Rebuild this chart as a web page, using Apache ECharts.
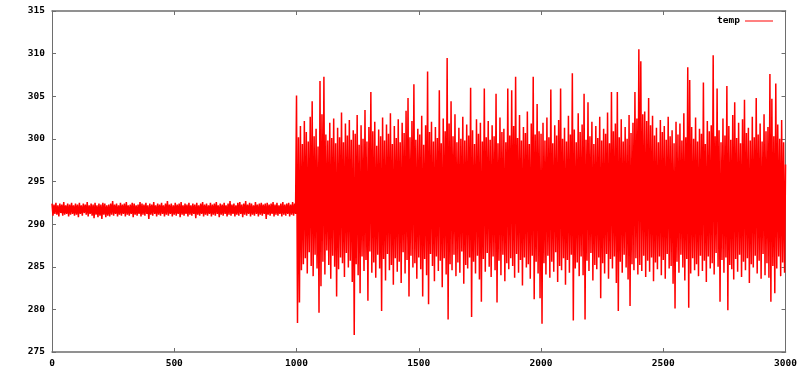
<!DOCTYPE html>
<html>
<head>
<meta charset="utf-8">
<script src="https://cdn.jsdelivr.net/npm/echarts@6/dist/echarts.min.js"></script>
<style>html,body{margin:0;padding:0;background:#fff;}#c{width:800px;height:375px;}</style>
</head>
<body>
<div id="c"></div>
<script>
// Sample index step (one value read per pixel column of the reference)
const sampleStep = 4;

// x ticks / y ticks
const xTicks = [0, 500, 1000, 1500, 2000, 2500, 3000];
const yTicks = [275, 280, 285, 290, 295, 300, 305, 310, 315];

// temp, samples 0..996
const tempA = [
292.4,291.0,292.3,291.2,292.5,291.1,292.2,290.9,292.4,291.3,292.3,291.0,292.6,291.1,292.2,291.2,292.4,290.9,292.3,291.1,
292.5,291.2,292.2,291.0,292.4,291.1,292.3,290.8,292.5,291.2,292.2,291.0,292.4,291.3,292.3,291.1,292.6,290.9,292.2,291.2,
292.4,291.0,292.3,290.7,292.5,291.1,292.2,290.8,292.4,291.0,292.3,290.6,292.5,291.1,292.4,290.8,292.2,291.0,292.3,290.9,
292.4,291.1,292.7,291.0,292.3,291.2,292.4,290.9,292.2,291.1,292.5,291.0,292.3,291.2,292.4,290.9,292.6,291.1,292.2,291.0,
292.3,291.2,292.5,290.8,292.4,291.1,292.2,291.0,292.3,291.2,292.6,290.9,292.4,291.1,292.3,291.0,292.5,291.2,292.2,290.6,
292.4,291.1,292.3,291.0,292.6,291.2,292.2,290.9,292.4,291.1,292.3,291.0,292.5,291.2,292.2,290.9,292.4,291.1,292.7,291.0,
292.3,291.2,292.4,290.9,292.2,291.1,292.5,291.0,292.3,291.2,292.4,290.8,292.6,291.1,292.2,291.0,292.4,291.2,292.3,290.9,
292.5,291.1,292.2,291.0,292.4,291.2,292.3,290.7,292.5,291.1,292.2,291.0,292.4,291.2,292.6,290.9,292.3,291.1,292.4,291.0,
292.2,291.2,292.5,290.9,292.3,291.1,292.4,291.0,292.6,291.2,292.2,290.8,292.4,291.1,292.3,291.0,292.5,291.2,292.2,290.9,
292.4,291.1,292.7,291.0,292.3,291.2,292.4,290.9,292.2,291.1,292.5,291.0,292.6,291.2,292.3,290.8,292.4,291.1,292.7,291.0,
292.3,291.2,292.5,290.9,292.4,291.1,292.2,291.0,292.6,291.2,292.3,290.9,292.4,291.1,292.5,291.0,292.3,291.2,292.4,290.6,
292.5,291.1,292.3,291.0,292.4,291.2,292.6,290.9,292.3,291.1,292.5,291.0,292.2,291.2,292.4,290.9,292.6,291.1,292.3,291.0,
292.4,291.2,292.5,290.9,292.3,291.1,292.6,291.0,292.4,291.2
];

// temp, samples 1000..1996
const tempB = [
305.1,278.4,300.2,280.8,301.5,284.6,299.4,285.3,302.1,286.0,300.8,284.2,299.7,286.7,302.6,285.1,304.4,283.9,300.3,286.4,
301.2,284.8,299.1,279.6,306.8,282.7,302.9,285.6,307.3,284.1,300.5,286.9,299.8,285.2,301.9,283.6,300.1,286.3,302.4,285.0,
299.5,281.5,301.3,284.7,300.2,286.1,303.1,285.4,299.6,283.8,301.8,286.6,300.4,284.9,302.2,285.7,299.9,283.2,301.0,277.0,
300.6,285.3,302.8,284.0,299.3,281.9,301.6,286.2,300.0,284.5,303.4,285.8,299.7,281.0,301.4,286.8,305.5,284.3,300.9,285.5,
302.0,283.7,299.2,286.4,301.1,284.8,300.3,279.8,302.5,285.9,299.8,283.4,301.7,286.5,300.6,284.6,303.0,285.2,299.4,282.9,
301.5,286.0,300.1,284.4,302.3,285.6,299.6,283.1,301.9,286.7,300.7,284.2,303.3,285.8,304.8,281.5,300.2,286.3,302.1,284.9,
306.4,285.4,299.9,283.6,301.2,286.1,300.5,284.7,302.7,281.5,299.3,285.9,301.6,284.0,307.9,280.6,300.8,286.5,302.0,285.1,
299.7,283.3,301.4,286.2,300.1,284.5,305.7,285.7,299.5,282.6,302.4,286.0,300.9,284.1,309.5,278.8,301.8,285.3,304.4,284.6,
300.3,286.4,302.9,283.9,299.6,285.5,301.3,284.3,300.0,286.8,302.6,283.0,299.8,285.2,301.7,284.8,300.4,286.1,306.0,279.1,
301.0,285.6,299.4,284.2,302.3,286.3,300.6,283.5,301.9,280.9,299.7,285.9,305.9,284.4,300.2,286.6,302.1,285.0,299.9,283.8,
301.6,286.2,300.3,284.6,305.3,280.8,299.5,285.7,302.5,284.0,300.8,286.4,301.2,283.3,299.6,285.4,305.9,284.7,300.4,286.0,
305.7,285.1,301.5,283.7,307.3,286.5,300.1,284.3,302.8,285.8,299.8,282.8,301.4,286.1,300.7,284.9,303.2,285.3,299.4,283.6,
301.8,286.3,307.3,281.2,300.5,285.6,304.1,284.2,300.9,281.3
];

// temp, samples 2000..3000
const tempC = [
300.6,278.3,301.9,285.4,299.8,284.1,302.5,286.3,300.2,283.7,305.8,285.6,299.5,284.4,301.6,286.7,300.4,283.2,302.2,285.1,
305.9,284.6,300.0,286.0,301.3,282.9,299.7,285.8,302.7,284.3,300.5,286.4,307.7,278.7,301.1,284.8,299.6,285.5,303.0,283.9,
300.8,286.2,301.7,284.0,305.3,278.8,299.9,285.7,304.3,284.5,300.3,286.6,302.0,283.4,299.4,285.2,301.5,284.7,300.1,286.1,
302.6,281.3,299.8,285.4,301.2,284.2,300.6,286.5,303.1,283.6,299.5,285.9,305.5,284.8,300.9,286.2,301.8,283.1,305.5,279.8,
300.2,285.6,302.3,284.3,299.7,286.4,301.4,284.9,300.0,283.5,302.8,280.4,300.7,285.3,301.9,284.6,305.5,286.0,302.4,284.1,
310.5,285.2,309.1,284.5,302.9,286.3,303.2,283.8,302.1,285.7,304.8,284.4,301.6,286.1,302.7,283.3,300.4,285.5,301.3,284.7,
299.6,286.2,302.2,284.0,300.8,285.8,301.5,283.6,299.9,286.5,302.6,284.8,300.3,285.1,301.0,283.0,299.5,280.1,302.0,285.6,
300.5,284.3,301.8,286.4,299.8,284.9,303.0,283.4,300.2,285.9,308.4,280.2,306.9,284.2,301.4,286.0,300.0,284.6,302.5,285.3,
299.7,283.9,301.2,286.3,300.6,284.5,306.6,285.7,299.4,283.2,302.1,286.2,300.9,284.8,301.6,285.4,309.8,284.1,300.3,286.6,
305.9,285.0,301.0,280.9,299.6,285.8,302.4,284.3,300.4,286.1,306.2,279.9,301.5,285.2,299.9,284.7,302.8,283.5,304.3,285.9,
300.1,284.4,301.9,286.4,299.5,283.8,302.3,285.6,304.6,284.6,300.7,286.0,301.3,283.1,299.8,285.3,302.6,284.9,300.2,286.3,
304.8,284.2,300.5,285.7,301.8,283.6,299.7,286.5,302.9,284.0,300.9,285.4,301.4,283.7,307.6,280.9,304.7,285.1,300.3,281.9,
306.5,284.8,301.7,286.2,300.0,283.9,302.2,285.5,299.6,284.3,297.0
];

const tempValues = tempA.concat(tempB, tempC);
const seriesData = tempValues.map((v, i) => [i * sampleStep, v]);

const fontFam = '"DejaVu Sans Mono", "Liberation Mono", monospace';
const axisCol = '#6e6e6e';
const labelStyle = { color: '#000', fontFamily: fontFam, fontWeight: 'bold', fontSize: 9.5 };
const plainNum = v => String(v);

const chart = echarts.init(document.getElementById('c'), null, { renderer: 'canvas' });
chart.setOption({
  animation: false,
  backgroundColor: '#fff',
  grid: { left: 52, right: 12, top: 11, bottom: 23, containLabel: false },
  legend: {
    data: [{ name: 'temp', icon: 'rect' }],
    right: 22, top: 11,
    align: 'right',
    itemWidth: 28, itemHeight: 1,
    textStyle: { color: '#000', fontFamily: fontFam, fontWeight: 'bold', fontSize: 9.5 },
    selectedMode: false
  },
  xAxis: [
    {
      type: 'value', min: xTicks[0], max: xTicks[xTicks.length - 1], interval: xTicks[1] - xTicks[0],
      position: 'bottom',
      axisLine: { show: true, onZero: false, lineStyle: { color: axisCol, width: 1.5 } },
      axisTick: { show: true, inside: true, length: 4, lineStyle: { color: axisCol } },
      axisLabel: Object.assign({ margin: 7, showMaxLabel: true, showMinLabel: true, formatter: plainNum }, labelStyle),
      splitLine: { show: false }
    },
    {
      type: 'value', min: xTicks[0], max: xTicks[xTicks.length - 1], interval: xTicks[1] - xTicks[0],
      position: 'top',
      axisLine: { show: true, onZero: false, lineStyle: { color: axisCol, width: 1.5 } },
      axisTick: { show: true, inside: true, length: 4, lineStyle: { color: axisCol } },
      axisLabel: { show: false },
      splitLine: { show: false }
    }
  ],
  yAxis: [
    {
      type: 'value', min: yTicks[0], max: yTicks[yTicks.length - 1], interval: yTicks[1] - yTicks[0],
      position: 'left',
      axisLine: { show: true, onZero: false, lineStyle: { color: axisCol, width: 1 } },
      axisTick: { show: true, inside: true, length: 4, lineStyle: { color: axisCol } },
      axisLabel: Object.assign({ margin: 7, formatter: plainNum }, labelStyle),
      splitLine: { show: false }
    },
    {
      type: 'value', min: yTicks[0], max: yTicks[yTicks.length - 1], interval: yTicks[1] - yTicks[0],
      position: 'right',
      axisLine: { show: true, onZero: false, lineStyle: { color: axisCol, width: 1 } },
      axisTick: { show: true, inside: true, length: 4, lineStyle: { color: axisCol } },
      axisLabel: { show: false },
      splitLine: { show: false }
    }
  ],
  series: [{
    name: 'temp',
    type: 'line',
    xAxisIndex: 0, yAxisIndex: 0,
    data: seriesData,
    showSymbol: false,
    symbol: 'none',
    sampling: null,
    lineStyle: { color: '#ff0000', width: 1.5 },
    itemStyle: { color: '#ff0000' },
    emphasis: { disabled: true }
  }]
});
</script>
</body>
</html>
